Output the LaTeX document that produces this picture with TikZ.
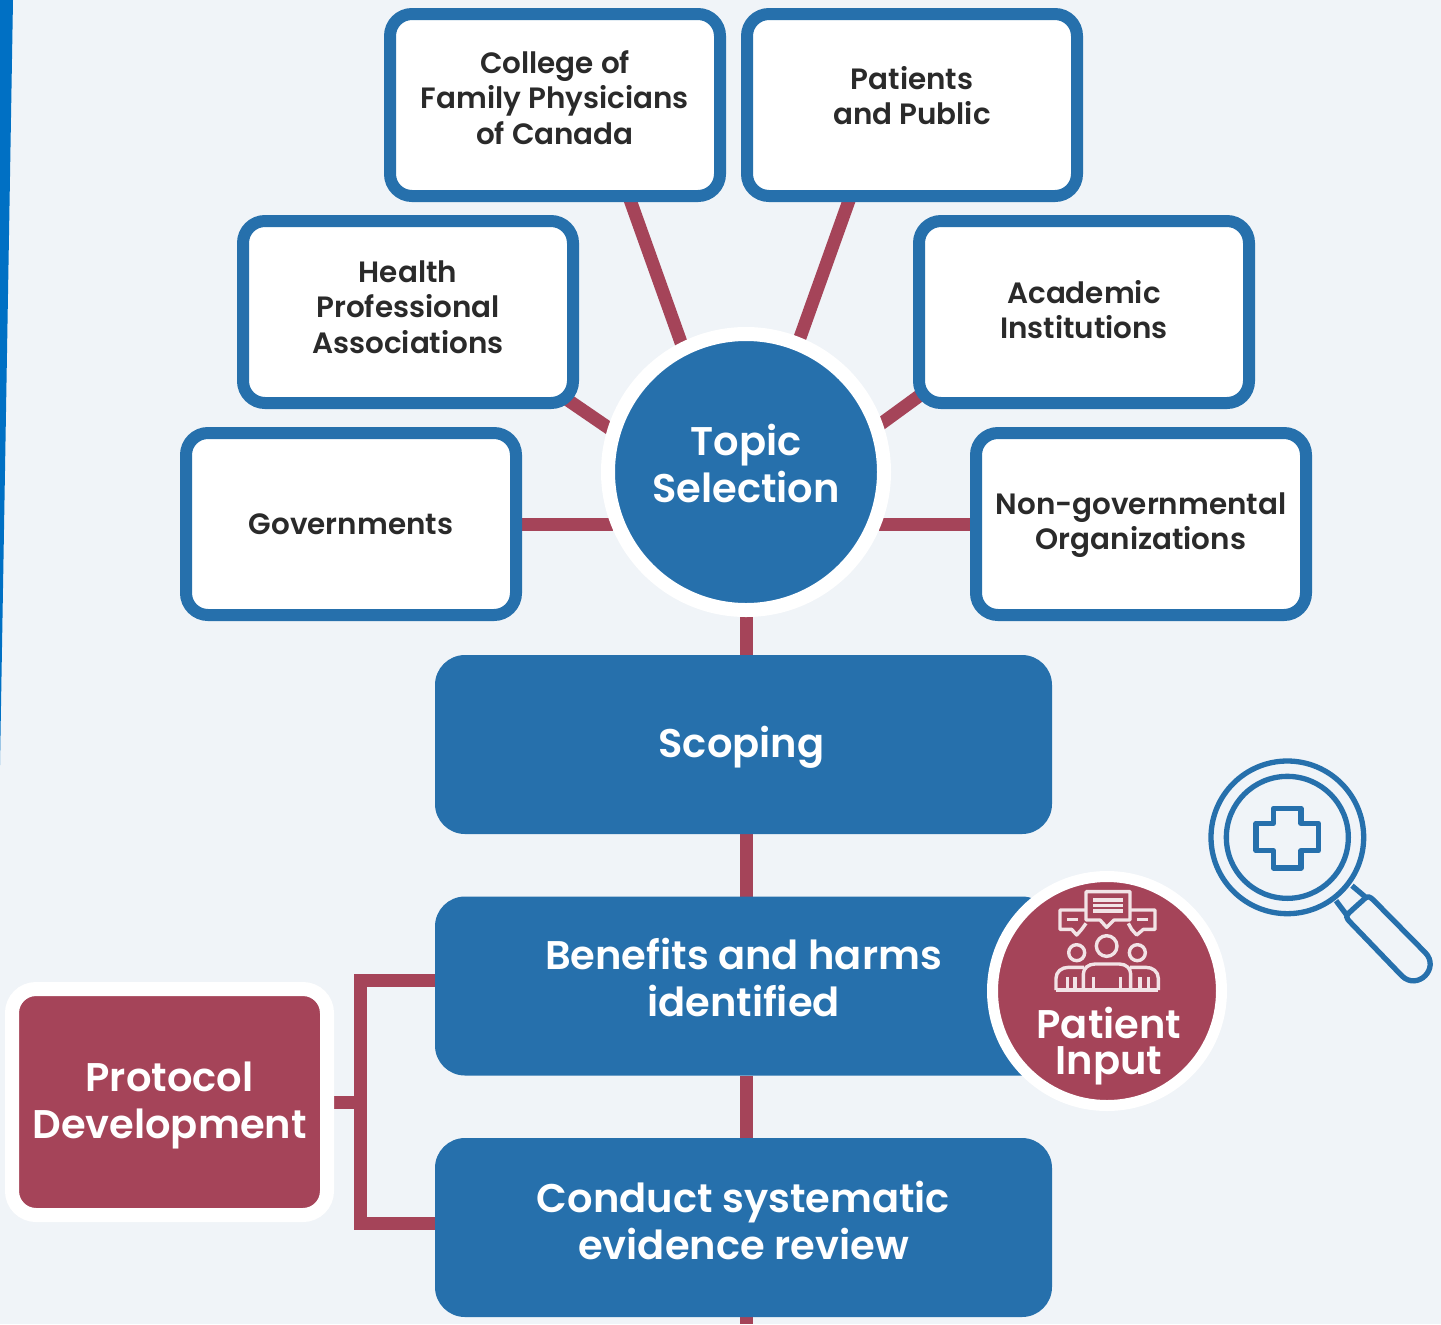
\documentclass[tikz,border=0pt]{standalone}
\usepackage{fontspec}
\setmainfont{Poppins}[BoldFont={Poppins SemiBold}]
\usetikzlibrary{calc}
\definecolor{bgc}{HTML}{F0F4F8}
\definecolor{stripc}{HTML}{0070C4}
\definecolor{blu}{HTML}{2670AC}
\definecolor{wine}{HTML}{A54459}
\definecolor{ink}{HTML}{2A2A2A}
\pgfdeclarelayer{bglayer}
\pgfdeclarelayer{conn}
\pgfsetlayers{bglayer,conn,main}
\newcommand\tshift[2]{\raisebox{#1}[0pt][0pt]{\begin{tabular}{@{}c@{}}#2\end{tabular}}}
\tikzset{
 x=0.5pt,y=-0.5pt,
 partner/.style={draw=blu,line width=6pt,fill=white,rounded corners=11pt,minimum width=165pt,minimum height=91pt,
   inner sep=0pt,outer sep=0pt,align=center,text=ink,font=\fontsize{14.7}{17.6}\selectfont\bfseries},
 bigtext/.style={font=\fontsize{20}{23.5}\selectfont\bfseries,text=white},
 stage/.style={fill=blu,rounded corners=15pt,minimum width=308.5pt,minimum height=89.5pt,
   inner sep=0pt,outer sep=0pt,align=center,bigtext},
 spoke/.style={draw=wine,line width=6.5pt,shorten <=-7pt},
 link/.style={draw=wine,line width=6.5pt},
 iconline/.style={draw=blu,line width=2.65pt,line join=round},
 peopleline/.style={draw=white!85!wine,line width=1.7pt,line join=round}
}
\begin{document}
\begin{tikzpicture}
\useasboundingbox (0,0) rectangle (1441,1324);
\begin{pgfonlayer}{bglayer}
\fill[bgc] (0,0) rectangle (1441,1324);
\fill[stripc] (0,0) -- (13,0) -- (0,765) -- cycle;
\end{pgfonlayer}

\node[partner] (college) at (555,105) {\tshift{-2pt}{College of\\Family Physicians\\of Canada}};
\node[partner] (public) at (912,105) {\tshift{-1.25pt}{Patients\\and Public}};
\node[partner] (health) at (408,312) {\tshift{-3.05pt}{Health\\Professional\\Associations}};
\node[partner] (academic) at (1084,312) {\tshift{-4.7pt}{Academic\\Institutions}};
\node[partner] (gov) at (351,524) {\tshift{-5.5pt}{Governments}};
\node[partner] (ngo) at (1141,524) {\tshift{-4.25pt}{Non-governmental\\Organizations}};

\node[circle,fill=blu,draw=white,line width=7pt,minimum size=138pt,inner sep=0pt,outer sep=0pt,
  align=center,bigtext] (topic) at (746,472) {\tshift{-4pt}{Topic\\Selection}};

\node[stage] (scoping) at (743.5,744.5) {\tshift{-7.2pt}{Scoping}\hspace*{2pt}};
\node[stage] (benefits) at (743.5,986) {\tshift{-3.8pt}{Benefits and harms\\identified}};
\node[stage] (conduct) at (743.5,1227.5) {\tshift{-4.5pt}{Conduct systematic\\evidence review}};

\node[fill=wine,draw=white,line width=7pt,rounded corners=12pt,minimum width=157.5pt,minimum height=113pt,
  inner sep=0pt,outer sep=0pt,align=center,bigtext] (protocol) at (169.5,1102) {\tshift{-7pt}{Protocol\\Development}};

\node[circle,fill=wine,draw=white,line width=5.5pt,minimum size=114.5pt,inner sep=0pt,outer sep=0pt] (patient) at (1107,991) {};
\node[inner sep=0pt,align=center,bigtext,font=\fontsize{20}{17.5}\selectfont\bfseries] (patienttext) at (1109,1042) {\tshift{-7.2pt}{Patient\\[-1.5pt]Input}};

\coordinate (bracket) at (360,1101);
\coordinate (pagefoot) at (746,1324);
\begin{pgfonlayer}{conn}
\draw[spoke] (college.-51) -- (topic.117);
\draw[spoke] (public.-124) -- (topic.68);
\draw[spoke] (health.-29) -- (topic.163);
\draw[spoke] (academic.-153) -- (topic.19);
\draw[link,shorten >=-2.5pt] (gov.east) -- (gov.east -| topic.west);
\draw[link,shorten >=-2.5pt] (ngo.west) -- (ngo.west -| topic.east);
\draw[link] (topic.south) -- (scoping.north -| topic.south);
\draw[link] (scoping.south -| topic.south) -- (benefits.north -| topic.south);
\draw[link] (benefits.south -| topic.south) -- (conduct.north -| topic.south);
\draw[link] (conduct.south -| topic.south) -- (pagefoot);
\draw[link,line join=miter] ($(benefits.west)+(0,-6)$) -| (bracket) |- ($(conduct.west)+(0,-4.5)$);
\draw[link] (protocol.east) -- (protocol.east -| bracket);
\end{pgfonlayer}

% people icon and magnifier, in coordinates of a 3x crop
\begin{scope}[shift={(980,740)},x=0.16667pt,y=-0.16667pt]
 \draw[peopleline] (318,510) -- (240,510) -- (240,568) -- (275,568) -- (290,585) -- (305,568) -- (318,550);
 \draw[peopleline] (450,510) -- (525,510) -- (525,568) -- (490,568) -- (470,585) -- (455,568) -- (445,550);
 \draw[peopleline] (318,540) -- (318,455) -- (450,455) -- (450,540) -- (402,540) -- (380,562) -- (360,540) -- cycle;
 \draw[peopleline] (340,480) -- (430,480) (340,497) -- (430,497) (340,513) -- (430,513);
 \draw[peopleline] (262,538) -- (295,538) (472,538) -- (505,538);
 \draw[peopleline] (290,638) circle[radius=24] (380,618) circle[radius=31] (472,638) circle[radius=24];
 \draw[peopleline] (228,750) -- (535,750);
 \draw[peopleline] (228,750) -- (228,715) .. controls (228,695) and (245,682) .. (265,682) -- (312,682);
 \draw[peopleline] (535,750) -- (535,715) .. controls (535,695) and (518,682) .. (498,682) -- (450,682);
 \draw[peopleline] (310,750) -- (310,702) .. controls (310,685) and (325,672) .. (345,672) -- (418,672) .. controls (438,672) and (452,685) .. (452,702) -- (452,750);
 \draw[peopleline] (262,712) -- (262,750) (285,712) -- (285,750) (340,710) -- (340,750) (422,710) -- (422,750) (480,712) -- (480,750) (505,712) -- (505,750);
 % magnifier
 \draw[iconline] (922,292) circle[radius=229];
 \draw[iconline] (922,292) circle[radius=183];
 \draw[iconline] (880,205) -- (963,205) -- (963,250) -- (1015,250) -- (1015,332) -- (963,332) -- (963,384) -- (880,384) -- (880,332) -- (828,332) -- (828,250) -- (880,250) -- cycle;
 \draw[iconline] (1068,482) -- (1100,525) (1116,437) -- (1155,470);
 \draw[iconline] (1145,484) .. controls (1165,465) .. (1187,487) -- (1335,637) .. controls (1382,684) and (1312,754) .. (1265,707) -- (1114,550) .. controls (1095,530) .. (1115,511) -- cycle;
\end{scope}
\end{tikzpicture}
\end{document}
